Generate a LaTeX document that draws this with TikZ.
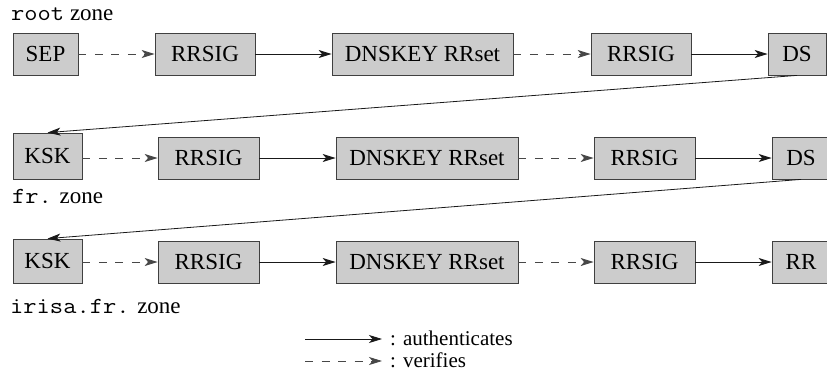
\documentclass[tikz,border=0pt]{standalone}
\usepackage{fontspec}
\setmainfont{Liberation Serif}
\setmonofont{Latin Modern Mono}[FakeStretch=1.12]
\usetikzlibrary{arrows.meta}
\tikzset{
  box/.style={draw=black!75, fill=black!20, line width=0.8pt, inner sep=0pt,
              font=\fontsize{23}{27}\selectfont, minimum height=42pt},
  auth/.style={draw=black!90, line width=0.8pt,
               -{Stealth[length=13pt,width=8pt,inset=3.5pt]}},
  verif/.style={auth, draw=black!72, dash pattern=on 8pt off 8.5pt},
  zone/.style={font=\fontsize{23}{27}\selectfont, inner sep=0pt, anchor=base west},
  legendtext/.style={zone, font=\fontsize{21}{25}\selectfont},
}
\begin{document}
\begin{tikzpicture}[x=1pt, y=-1pt]
\path[use as bounding box] (0,0) rectangle (827,376);

% root zone
\node[box, minimum width=65pt]  (sep)   at (45.5,54)  {SEP};
\node[box, minimum width=100pt] (sig1a) at (205,54)   {RRSIG};
\node[box, minimum width=181pt] (key1)  at (422.5,54) {DNSKEY RRset};
\node[box, minimum width=100pt] (sig1b) at (641,54)   {RRSIG};
\node[box, minimum width=58pt]  (ds1)   at (797,54)   {DS};

% fr. zone
\node[box, minimum width=69pt, minimum height=46pt] (ksk2) at (47.5,156) {KSK};
\node[box, minimum width=101pt] (sig2a) at (208.5,158) {RRSIG};
\node[box, minimum width=182pt] (key2)  at (427,158)   {DNSKEY RRset};
\node[box, minimum width=101pt] (sig2b) at (644.5,158) {RRSIG};
\node[box, minimum width=58pt]  (ds2)   at (801,158)   {DS};

% irisa.fr. zone
\node[box, minimum width=69pt, minimum height=44pt] (ksk3) at (47.5,261) {KSK};
\node[box, minimum width=101pt] (sig3a) at (208.5,262) {RRSIG};
\node[box, minimum width=182pt] (key3)  at (427,262)   {DNSKEY RRset};
\node[box, minimum width=101pt] (sig3b) at (644.5,262) {RRSIG};
\node[box, minimum width=58pt]  (rr3)   at (801,262)   {RR};

% zone labels
\node[zone] (zroot)  at (11,20)  {\texttt{root} zone};
\node[zone] (zfr)    at (12,203) {\texttt{fr.} zone};
\node[zone] (zirisa) at (10,313) {\texttt{irisa.fr.} zone};

% chain of trust
\draw[verif] (sep) -- (sig1a);
\draw[auth]  (sig1a) -- (key1);
\draw[verif] (key1) -- (sig1b);
\draw[auth]  (sig1b) -- (ds1);
\draw[auth]  (ds1.south) -- (ksk2.north);

\draw[verif] (ksk2.east |- sig2a.west) -- (sig2a.west);
\draw[auth]  (sig2a) -- (key2);
\draw[verif] (key2) -- (sig2b);
\draw[auth]  (sig2b) -- (ds2);
\draw[auth]  (ds2.south) -- (ksk3.north);

\draw[verif] (ksk3.east |- sig3a.west) -- (sig3a.west);
\draw[auth]  (sig3a) -- (key3);
\draw[verif] (key3) -- (sig3b);
\draw[auth]  (sig3b) -- (rr3);

% legend
\coordinate (la1) at (305,339);
\coordinate (la2) at (382,339);
\coordinate (lv1) at (305,361);
\coordinate (lv2) at (382,361);
\draw[auth]  (la1) -- (la2);
\draw[verif] (lv1) -- (lv2);
\node[legendtext] (lauth)  at (390,345) {: authenticates};
\node[legendtext] (lverif) at (390,367) {: verifies};
\end{tikzpicture}
\end{document}
